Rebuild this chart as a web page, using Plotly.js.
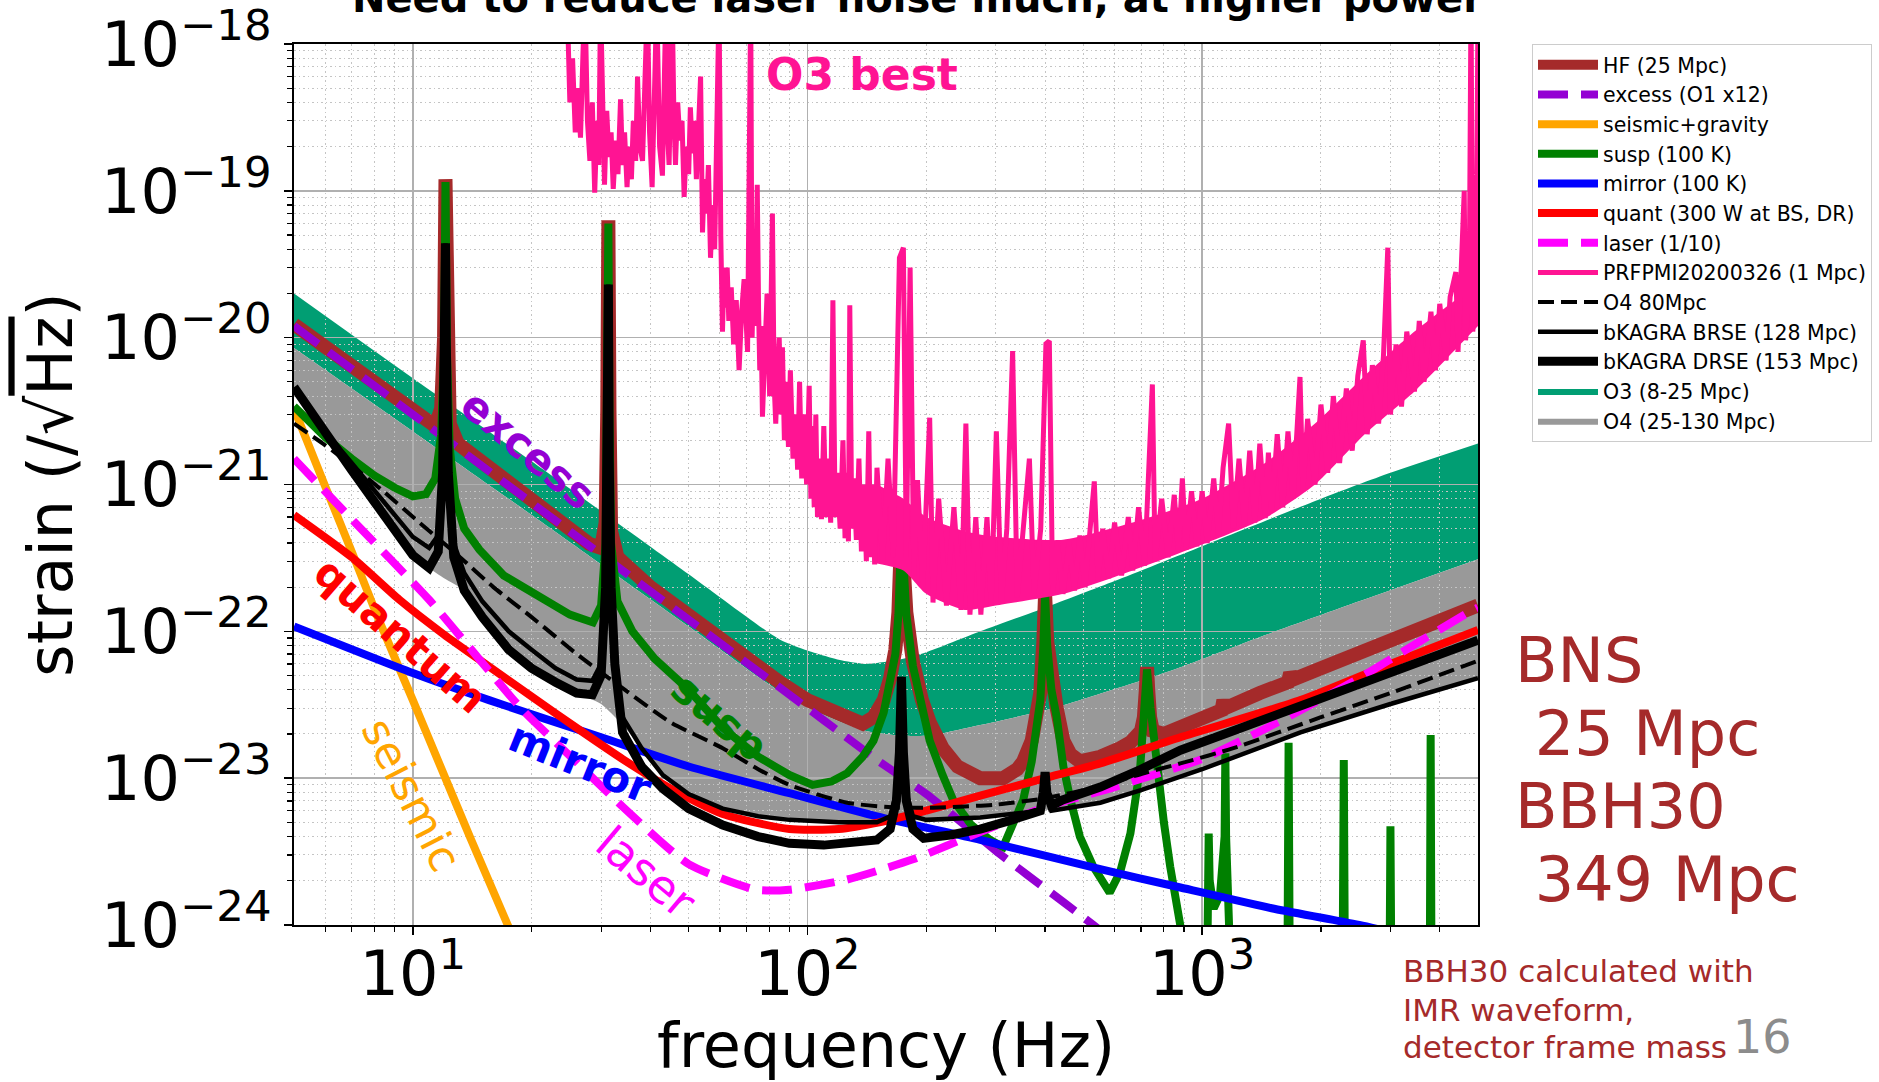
<!DOCTYPE html>
<html><head><meta charset="utf-8">
<script src="https://cdn.plot.ly/plotly-3.0.1.min.js"></script>
<style>html,body{margin:0;padding:0;background:#fff;} #chart{width:1879px;height:1082px;}</style>
</head><body><div id="chart"></div>
<script>
// ---------------- DATA (frequency in Hz, strain in 1/sqrt(Hz)) ----------------
const hfFreq = [5,7,10,11.4,11.8,12.0,12.1,12.2,12.4,13,15,20,28,30,30.8,31.1,31.3,31.5,31.8,33,40,50,70,85,100,120,138,147,156,162,167,170,172,173.5,175,178,185,195,204,220,240,274,313,340,352,370,389,396,400,405,415,428,445,464,490,552,620,658,700,712,720,725,730,738,750,800,881,1000,1120,1132,1145,1400,1650,1671,1700,2000,2500,3177,4000,5000];
const hfStrain = [1.23e-20,6.3e-21,3.1e-21,2.5e-21,3.3e-21,1e-20,1.2e-19,1e-20,2.6e-21,1.9e-21,1.4e-21,7.7e-22,3.95e-22,3.7e-22,5.5e-22,3.2e-21,6.3e-20,3.2e-21,4.8e-22,3.2e-22,2.0e-22,1.27e-22,6.4e-23,4.5e-23,3.4e-23,2.7e-23,2.35e-23,2.6e-23,3.4e-23,4.8e-23,7.5e-23,1.35e-22,3e-22,6.6e-22,3e-22,1.35e-22,6.2e-23,3.4e-23,2.4e-23,1.6e-23,1.2e-23,1.0e-23,1.0e-23,1.15e-23,1.3e-23,1.8e-23,3.8e-23,8.5e-23,1.8e-22,8.5e-23,4.4e-23,3e-23,1.8e-23,1.45e-23,1.3e-23,1.4e-23,1.6e-23,1.75e-23,2.1e-23,2.6e-23,4e-23,5.7e-23,4e-23,2.6e-23,2.1e-23,2.0e-23,2.2e-23,2.6e-23,2.9e-23,3.4e-23,3.0e-23,3.8e-23,4.5e-23,5.2e-23,4.7e-23,5.6e-23,7.2e-23,9.5e-23,1.2e-22,1.5e-22];

const excessFreq = [5,10,20,50,100,124,150,200,250,300,360,450,530,700];
const excessStrain = [1.2e-20,3.0e-21,7.5e-22,1.2e-22,3.0e-23,1.95e-23,1.33e-23,7.8e-24,4.8e-24,3.2e-24,2.2e-24,1.4e-24,1.0e-24,5.6e-25];

const seismicFreq = [5,6,7,8.2,10,12,14,17.4,20];
const seismicStrain = [3.3e-21,9.7e-22,3.5e-22,1.2e-22,3.4e-23,1.05e-23,3.9e-24,1.0e-24,4.1e-25];

const suspFreq = [5,6,7,8,9,10,10.8,11.4,11.8,12.0,12.1,12.2,12.4,12.8,13.5,14.75,17,21.7,25,28.6,30,30.8,31.1,31.3,31.5,31.8,33,36,41,50,61,75,90,103,115,126,138,147,156,162,167,170,172,173.5,175,178,185,195,204,220,234,260,290,313,340,352,370,389,396,400,405,415,428,445,464,490,530,583,620,658,697,715,725,740,767,800,830,879,920,1030,1036,1039,1045,1070,1110,1140,1145,1150,1180,1645,1656,1667,2270,2285,2300,2985,3000,3015,3775,3793,3811,5000];
const suspStrain = [3.4e-21,2.1e-21,1.5e-21,1.15e-21,9.5e-22,8.3e-22,8.6e-22,1.1e-21,2.2e-21,8e-21,1.15e-19,8e-21,1.8e-21,8e-22,5e-22,3.6e-22,2.4e-22,1.64e-22,1.3e-22,1.15e-22,1.5e-22,4e-22,3e-21,6.0e-20,3e-21,4e-22,1.6e-22,1.0e-22,6.5e-23,4.0e-23,2.2e-23,1.4e-23,1.05e-23,9e-24,9.5e-24,1.08e-23,1.4e-23,1.8e-23,2.8e-23,4.4e-23,7e-23,1.3e-22,3e-22,6.5e-22,3e-22,1.3e-22,5.8e-23,3e-23,1.8e-23,1.05e-23,7.1e-24,4.8e-24,3.8e-24,3.4e-24,5.5e-24,7.1e-24,1.3e-23,3.4e-23,8e-23,1.76e-22,8e-23,4e-23,2.6e-23,1.2e-23,7.1e-24,4e-24,2.5e-24,1.66e-24,2.3e-24,4.2e-24,1.2e-23,3e-23,5.5e-23,3e-23,1.2e-23,5e-24,2.5e-24,1.15e-24,5e-25,5e-25,2e-24,4.2e-24,2e-24,1.3e-24,1.6e-24,4e-24,1.48e-23,4e-24,5e-25,5e-25,1.74e-23,5e-25,5e-25,1.33e-23,5e-25,5e-25,4.7e-24,5e-25,5e-25,1.97e-23,5e-25,5e-25];

const mirrorFreq = [5,10,15.6,30,50,90,150,274,552,881,1500,2500,5000];
const mirrorStrain = [1.08e-22,5.2e-23,3.4e-23,1.9e-23,1.2e-23,7.9e-24,5.5e-24,3.8e-24,2.4e-24,1.8e-24,1.3e-24,1.0e-24,6.5e-25];

const quantFreq = [5,7,9.25,12,15,20,26,34,45,61,90,120,152,200,274,400,552,881,1775,3000,5000];
const quantStrain = [6.2e-22,3.2e-22,1.64e-22,9.5e-23,6.2e-23,3.6e-23,2.2e-23,1.35e-23,8.5e-24,5.7e-24,4.5e-24,4.5e-24,5.0e-24,6.0e-24,7.6e-24,1.0e-23,1.26e-23,1.9e-23,3.4e-23,6.0e-23,1.02e-22];

const laserFreq = [5,7,11,15,19,25,34,50,74,90,126,185,274,404,583,725,1000,1459,2500,3500,4700,5000];
const laserStrain = [1.5e-21,5.8e-22,1.64e-22,6.1e-23,2.9e-23,1.42e-23,6.4e-24,2.6e-24,1.74e-24,1.74e-24,2.04e-24,2.8e-24,4.3e-24,6.4e-24,8.5e-24,1.02e-23,1.35e-23,2.2e-23,4.8e-23,8.3e-23,1.33e-22,1.45e-22];

// PRFPMI (O3 best) measured curve: noisy trace read point by point
const prfpmiFreq = [24.6,25.0,25.4,25.8,26.2,26.6,27.0,27.3,27.7,28.1,28.5,28.9,29.3,29.6,29.9,30.3,30.6,31.0,31.4,31.8,32.2,32.7,33.1,33.6,34.0,34.4,34.9,35.3,35.8,36.2,36.7,37.1,37.6,38.2,38.7,39.3,39.8,40.4,40.9,41.5,42.2,42.9,43.4,43.8,44.2,44.6,45.0,45.4,45.9,46.3,46.9,47.5,48.1,48.7,49.3,50.0,50.5,51.1,51.7,52.3,52.9,53.6,54.2,54.8,55.5,56.1,56.8,57.5,58.2,58.9,59.7,60.3,60.9,61.5,62.0,62.6,63.2,64.1,65.0,66.0,67.1,68.1,69.1,70.5,71.8,72.4,73.0,73.8,74.6,75.2,75.7,76.3,76.9,78.0,79.0,80.2,81.5,82.3,83.1,84.0,84.8,85.6,86.4,87.4,88.5,89.5,90.5,91.9,93.4,94.4,95.5,96.7,98.0,99.5,101,102,103,104,105,106,107,108.5,110,111.5,113,114.5,116,117.5,119,121,123,124.5,126,127,128,129.5,131,133,135,137,139,141,143,144.5,146,148,150,155,160,165,171,175,178,182,186,190,196,204,208,215,225,235,245,252,258,267,275,285,292,301,310,320,331,340,352,365,375,390,402,410,418,430,444,460,475,490,505,520,533,545,560,580,600,625,650,667,690,715,748,760,790,820,850,870,891,910,940,970,1000,1030,1070,1100,1130,1167,1200,1240,1280,1320,1360,1400,1444,1472,1500,1550,1600,1650,1700,1770,1800,1850,1932,2000,2080,2150,2230,2320,2400,2480,2560,2620,2700,2800,2880,2954,3000,3100,3200,3300,3451,3550,3650,3800,3900,4000,4150,4250,4394,4450,4614,4650,4750,4800,4850,4950,5000];
const prfpmiStrain = [2e-18,4e-19,8e-19,2.5e-19,5e-19,2.3e-19,9e-19,2e-18,3e-19,1.6e-19,4e-19,9.7e-20,3e-19,1.5e-19,2e-18,2e-19,1.1e-19,3.5e-19,1.7e-19,2.5e-19,1.03e-19,2.2e-19,1.3e-19,4.2e-19,1.5e-19,2.5e-19,1.06e-19,2e-19,1.2e-19,3e-19,1.6e-19,6e-19,2e-19,1.6e-19,5e-19,2e-18,2.5e-19,1.06e-19,4e-19,2e-18,2e-19,1.27e-19,6e-19,2e-18,2.5e-19,1.5e-19,5e-19,2e-18,3e-19,1.5e-19,4e-19,2.2e-19,3e-19,9.1e-20,2e-19,1.3e-19,3.7e-19,1.8e-19,3e-19,1.2e-19,2.5e-19,6e-19,5.2e-20,1.2e-19,7e-20,1.5e-19,3.5e-20,8e-20,4e-20,1.5e-19,2e-18,5e-20,1.1e-20,3e-20,1.6e-20,3e-20,1.3e-20,2.2e-20,9e-21,1.8e-20,6e-21,1.5e-20,2.5e-20,8e-21,2e-18,1e-20,3e-20,1.2e-20,1.1e-19,1.5e-20,6e-21,1.2e-20,2.9e-21,8e-21,2e-20,4e-21,7e-20,5e-21,2.6e-21,6e-21,1e-20,3e-21,8.6e-21,2e-21,5e-21,1.8e-21,6e-21,1.5e-21,3e-21,1.26e-21,5e-21,1.1e-21,3e-21,1.0e-21,4.7e-21,8e-22,2.5e-21,7e-22,3e-21,6e-22,1.5e-21,5.8e-22,2.5e-21,6e-22,1.5e-21,5.5e-22,1.8e-20,6e-22,1.2e-21,5e-22,2e-21,4.3e-22,1.2e-21,4.1e-22,1.66e-20,5e-22,1.1e-21,4.2e-22,1.5e-21,3.5e-22,1e-21,3e-22,2.3e-21,3.2e-22,1e-21,2.85e-22,1.3e-21,3e-22,1.5e-21,3.2e-22,3.5e-20,4.1e-20,3.2e-22,3.0e-20,2.4e-22,1.07e-21,2e-22,2.85e-21,1.57e-22,8e-22,1.5e-22,7e-22,1.4e-22,2.6e-21,1.3e-22,6e-22,1.3e-22,6e-22,1.5e-22,2.3e-21,1.6e-22,5e-22,8.1e-21,1.7e-22,5e-22,1.5e-21,1.8e-22,5e-22,9.1e-21,9.5e-21,1.8e-22,4e-22,1.8e-22,4e-22,1.9e-22,4.5e-22,2.0e-22,4.5e-22,1.05e-21,2.2e-22,5e-22,2.3e-22,5.5e-22,2.4e-22,6e-22,2.6e-22,7e-22,2.8e-22,4.8e-21,3e-22,8e-22,3.2e-22,8.5e-22,3.5e-22,1.1e-21,3.6e-22,9e-22,3.8e-22,9e-22,4.0e-22,1.1e-21,4.5e-22,1.3e-21,2.6e-21,5e-22,1.5e-21,5.2e-22,1.7e-21,5.5e-22,1.9e-21,5.9e-22,1.65e-21,6.5e-22,2.2e-21,7e-22,2.3e-21,8e-22,5.4e-21,9e-22,2.8e-21,1.0e-21,3.5e-21,1.2e-21,4e-21,1.4e-21,4.5e-21,1.7e-21,5.5e-21,9.6e-21,2.2e-21,6.5e-21,2.6e-21,7.5e-21,4.1e-20,3.0e-21,9e-21,3.4e-21,1.1e-20,4.3e-21,1.3e-20,5e-21,1.5e-20,6e-21,1.7e-20,7e-21,1.9e-20,2.8e-20,8e-21,1e-19,9.6e-21,2.1e-20,2e-18,1.1e-20,2.5e-20,2e-18];
// lower and upper edge of the dense noise band of the same curve (150 Hz - 5 kHz)
const prfpmiBandFreq = [150,175,200,250,300,444,667,1000,1444,1932,2582,3451,4614,5000];
const prfpmiBandLow = [2.9e-22,2.6e-22,1.8e-22,1.4e-22,1.5e-22,1.8e-22,2.6e-22,3.9e-22,5.9e-22,1.0e-21,2.2e-21,4.3e-21,9.6e-21,1.2e-20];
const prfpmiBandHigh = [1.0e-21,8e-22,6e-22,4.8e-22,4.4e-22,4.2e-22,5.5e-22,8e-22,1.4e-21,2.6e-21,5.5e-21,1.1e-20,2.0e-20,2.3e-20];

const o4DashFreq = [5,6,7,8.5,10.4,13,16,20,26.4,34,45,61,75,90,126,170,208,300,400,550,711,881,1200,2000,3000,5000];
const o4DashStrain = [2.6e-21,1.85e-21,1.35e-21,8.8e-22,5.5e-22,3.3e-22,2.0e-22,1.25e-22,6.8e-23,4.1e-23,2.4e-23,1.6e-23,1.15e-23,9e-24,6.8e-24,6.3e-24,6.3e-24,6.6e-24,7.3e-24,8.8e-24,1.08e-23,1.26e-23,1.6e-23,2.6e-23,3.8e-23,6.3e-23];

const brseFreq = [5,6,7,8,9,10,11,11.6,11.9,12.05,12.1,12.15,12.3,12.7,13.5,15,17.5,20,23,26,28.5,30,30.8,31.15,31.3,31.45,31.8,32.5,34,38,43,50,61,75,90,120,150,162,168,171,173,175,178,185,200,274,330,389,396,400,404,415,552,700,1000,1775,3000,5000];
const brseStrain = [4.4e-21,2.3e-21,1.4e-21,9e-22,6.2e-22,4.4e-22,3.7e-22,4.5e-22,1.2e-21,1e-20,4.4e-20,1e-20,1.2e-21,4e-22,2.5e-22,1.6e-22,1.0e-22,7.5e-23,5.6e-23,4.7e-23,4.6e-23,6e-23,2.2e-22,1.5e-21,2.3e-20,1.5e-21,2.2e-22,6e-23,2.6e-23,1.6e-23,1.05e-23,7.8e-24,6.2e-24,5.5e-24,5.2e-24,5.0e-24,5.0e-24,5.5e-24,8e-24,1.6e-23,4.9e-23,1.6e-23,8e-24,5.5e-24,5.2e-24,5.4e-24,5.7e-24,6.0e-24,8e-24,1.1e-23,8e-24,6.0e-24,6.8e-24,8.3e-24,1.15e-23,2.05e-23,3.2e-23,4.8e-23];

const drseFreq = [5,6,7,8,9,10,11,11.6,11.9,12.05,12.1,12.15,12.3,12.7,13.5,15,17.5,20,23,26,28.5,30,30.8,31.15,31.3,31.45,31.8,32.5,34,38,43,50,61,75,90,110,130,150,162,168,171,173,175,178,185,197,230,274,330,389,396,400,404,415,443,552,700,881,1200,1775,3000,5000];
const drseStrain = [4.6e-21,2.2e-21,1.25e-21,7.6e-22,4.8e-22,3.3e-22,2.7e-22,3.5e-22,1.2e-21,1e-20,4.4e-20,1e-20,1.2e-21,3.2e-22,1.9e-22,1.25e-22,7.5e-23,5.6e-23,4.5e-23,3.8e-23,3.7e-23,5e-23,2e-22,1.5e-21,2.3e-20,1.5e-21,2e-22,6e-23,2.05e-23,1.2e-23,8.5e-24,6.2e-24,4.8e-24,4.0e-24,3.6e-24,3.5e-24,3.6e-24,3.8e-24,4.5e-24,7e-24,1.5e-23,4.9e-23,1.5e-23,7e-24,4.5e-24,3.9e-24,4.1e-24,4.5e-24,5.2e-24,6.0e-24,8e-24,1.1e-23,8e-24,6.5e-24,7.1e-24,8.7e-24,1.15e-23,1.55e-23,2.1e-23,3.1e-23,5.3e-23,8.7e-23];

// O3 band: 8 Mpc (upper) to 25 Mpc; O4 band: 25 Mpc to 130 Mpc (lower)
const o3UpperFreq = [5,10,20,50,85,100,120,140,170,200,274,400,600,1000,2000,3000,5000];
const o3UpperStrain = [2.0e-20,5.3e-21,1.44e-21,2.45e-22,8.8e-23,7.4e-23,6.4e-23,6.0e-23,6.4e-23,7.2e-23,1.0e-22,1.45e-22,2.2e-22,3.8e-22,8.0e-22,1.2e-21,1.9e-21];
const band25Freq = [5,10,20,50,85,110,140,170,204,274,400,490,700,900,1459,2500,5000];
const band25Strain = [8.5e-21,2.3e-21,6.2e-22,1.08e-22,3.9e-23,2.7e-23,2.1e-23,1.95e-23,1.95e-23,2.3e-23,2.9e-23,3.4e-23,4.6e-23,5.8e-23,9.5e-23,1.6e-22,3.1e-22];
const o4LowerFreq = [5,6,7,8,9,10,11,12,13.5,15,17.5,20,23,26,30,34,38,43,50,61,75,90,120,150,200,274,389,552,700,1000,1775,3000,5000];
const o4LowerStrain = [4.4e-21,2.2e-21,1.25e-21,7.6e-22,4.8e-22,3.3e-22,2.7e-22,2.3e-22,1.9e-22,1.25e-22,7.5e-23,5.6e-23,4.5e-23,3.8e-23,3.2e-23,2.3e-23,1.6e-23,1.05e-23,7.8e-24,6.2e-24,5.5e-24,5.2e-24,5.0e-24,5.0e-24,5.2e-24,5.4e-24,6.0e-24,6.8e-24,8.3e-24,1.15e-23,2.05e-23,3.2e-23,4.8e-23];

// tick labels
const xTickVals = [10, 100, 1000];
const xTickText = ['10<sup>1</sup>', '10<sup>2</sup>', '10<sup>3</sup>'];
const yTickVals = [1e-24, 1e-23, 1e-22, 1e-21, 1e-20, 1e-19, 1e-18];
const yTickText = ['10<sup>\u221224</sup>', '10<sup>\u221223</sup>', '10<sup>\u221222</sup>', '10<sup>\u221221</sup>', '10<sup>\u221220</sup>', '10<sup>\u221219</sup>', '10<sup>\u221218</sup>'];

// ---------------- FIGURE ----------------
const FONT = 'DejaVu Sans';
const xMinor = [];
[1, 10, 100, 1000].forEach(d => { for (let k = 2; k <= 9; k++) { const v = k * d; if (v > 5 && v < 5000) xMinor.push(v); } });
const yMinor = [];
for (let e = -24; e < -18; e++) { for (let k = 2; k <= 9; k++) yMinor.push(k * Math.pow(10, e)); }

function line(name, x, y, color, width, opts) {
  opts = opts || {};
  return Object.assign({
    type: 'scatter', mode: 'lines', name: name, x: x, y: y,
    xaxis: 'x2', yaxis: 'y2',
    line: { color: color, width: width, dash: opts.dash || 'solid', shape: opts.shape || 'linear', smoothing: opts.smoothing || 0 },
    legendrank: opts.rank, hoverinfo: 'skip'
  }, opts.extra || {});
}

const traces = [
  // fills on the lower subplot (grid of upper subplot drawn over them)
  { type: 'scatter', mode: 'lines', x: band25Freq, y: band25Strain, xaxis: 'x', yaxis: 'y', line: { width: 0, shape: 'spline', smoothing: 0.6 }, showlegend: false, hoverinfo: 'skip' },
  { type: 'scatter', mode: 'lines', name: 'O3 (8-25 Mpc)', x: o3UpperFreq, y: o3UpperStrain, xaxis: 'x', yaxis: 'y', fill: 'tonexty', fillcolor: '#019e73', line: { width: 0, color: '#019e73', shape: 'spline', smoothing: 0.6 }, legendrank: 12, hoverinfo: 'skip' },
  { type: 'scatter', mode: 'lines', x: o4LowerFreq, y: o4LowerStrain, xaxis: 'x', yaxis: 'y', line: { width: 0, shape: 'spline', smoothing: 0.6 }, showlegend: false, hoverinfo: 'skip' },
  { type: 'scatter', mode: 'lines', name: 'O4 (25-130 Mpc)', x: band25Freq, y: band25Strain, xaxis: 'x', yaxis: 'y', fill: 'tonexty', fillcolor: '#999999', line: { width: 0, color: '#999999', shape: 'spline', smoothing: 0.6 }, legendrank: 13, hoverinfo: 'skip' },
  // lines
  line('HF (25 Mpc)', hfFreq, hfStrain, '#a52a2a', 14, { rank: 1 }),
  line('excess (O1 x12)', excessFreq, excessStrain, '#9400d3', 8, { rank: 2, dash: '30px,13px', shape: 'spline', smoothing: 0.6 }),
  line('seismic+gravity', seismicFreq, seismicStrain, '#ffa500', 8, { rank: 3, shape: 'spline', smoothing: 0.6 }),
  line('susp (100 K)', suspFreq, suspStrain, '#008000', 8, { rank: 4 }),
  line('mirror (100 K)', mirrorFreq, mirrorStrain, '#0000ff', 8, { rank: 5, shape: 'spline', smoothing: 0.6 }),
  line('quant (300 W at BS, DR)', quantFreq, quantStrain, '#ff0000', 8, { rank: 6, shape: 'spline', smoothing: 0.6 }),
  line('laser (1/10)', laserFreq, laserStrain, '#ff00ff', 8, { rank: 7, dash: '30px,13px', shape: 'spline', smoothing: 0.6 }),
  { type: 'scatter', mode: 'lines', x: prfpmiBandFreq, y: prfpmiBandLow, xaxis: 'x2', yaxis: 'y2', line: { width: 0, shape: 'spline', smoothing: 0.6 }, showlegend: false, hoverinfo: 'skip' },
  { type: 'scatter', mode: 'lines', x: prfpmiBandFreq, y: prfpmiBandHigh, xaxis: 'x2', yaxis: 'y2', fill: 'tonexty', fillcolor: '#ff1493', line: { width: 0, shape: 'spline', smoothing: 0.6 }, showlegend: false, hoverinfo: 'skip' },
  line('PRFPMI20200326 (1 Mpc)', prfpmiFreq, prfpmiStrain, '#ff1493', 5, { rank: 8 }),
  line('O4 80Mpc', o4DashFreq, o4DashStrain, '#000000', 4, { rank: 9, dash: '16px,7px', shape: 'spline', smoothing: 0.6 }),
  line('bKAGRA BRSE (128 Mpc)', brseFreq, brseStrain, '#000000', 4.5, { rank: 10 }),
  line('bKAGRA DRSE (153 Mpc)', drseFreq, drseStrain, '#000000', 9, { rank: 11 })
];

const L = 294, R = 1478, T = 44, B = 925;
const px = v => (v - L) / (R - L);
const py = v => (B - v) / (B - T);

function ann(text, x, y, size, color, opts) {
  opts = opts || {};
  return Object.assign({
    xref: 'paper', yref: 'paper', x: px(x), y: py(y), text: text, showarrow: false,
    font: { family: FONT, size: size, color: color }, xanchor: 'center', yanchor: 'middle'
  }, opts);
}

const annotations = [
  ann('<b>Need to reduce laser noise much, at higher power</b>', 918, -2, 40, '#000000'),
  ann('<b>O3 best</b>', 862, 75, 44, '#ff1493'),
  ann('<b>excess</b>', 528, 449, 42, '#9400d3', { textangle: 40 }),
  ann('<b>quantum</b>', 401, 635, 42, '#ff0000', { textangle: 41 }),
  ann('seismic', 412, 794, 44, '#ffa500', { textangle: 63 }),
  ann('<b>mirror</b>', 580, 762, 42, '#0000ff', { textangle: 22 }),
  ann('<b>susp</b>', 720, 717, 42, '#008000', { textangle: 40 }),
  ann('laser', 646, 872, 46, '#ff00ff', { textangle: 40 }),
  ann('BNS', 1513, 660.5, 62, '#a52a2a', { xanchor: 'left' }),
  ann('\u00a025 Mpc', 1513, 733.5, 62, '#a52a2a', { xanchor: 'left' }),
  ann('BBH30', 1513, 806.5, 62, '#a52a2a', { xanchor: 'left' }),
  ann('\u00a0349 Mpc', 1513, 879.5, 62, '#a52a2a', { xanchor: 'left' }),
  ann('BBH30 calculated with', 1401, 971.3, 31, '#a52a2a', { xanchor: 'left' }),
  ann('IMR waveform,', 1401, 1010.3, 31, '#a52a2a', { xanchor: 'left' }),
  ann('detector frame mass', 1401, 1047.3, 31, '#a52a2a', { xanchor: 'left' }),
  ann('16', 1731, 1037, 46, '#8c8c8c', { xanchor: 'left' })
];

const xRange = [Math.log10(5), Math.log10(5000)];
const yRange = [-24.00001, -17.99999];
const gridMinor = (vals) => ({
  tickmode: 'array', tickvals: vals, ticks: 'outside', ticklen: 5, tickwidth: 1.2, tickcolor: '#000',
  showgrid: true, gridcolor: '#c4c4c4', gridwidth: 1, griddash: '1.5px,3px'
});

const layout = {
  width: 1879, height: 1082,
  margin: { l: L, r: 1879 - R, t: T, b: 1082 - B, autoexpand: false },
  paper_bgcolor: '#ffffff', plot_bgcolor: 'rgba(0,0,0,0)',
  font: { family: FONT, color: '#000000' },
  showlegend: true,
  legend: {
    x: px(1532), y: 1, xanchor: 'left', yanchor: 'top', traceorder: 'normal',
    bgcolor: 'rgba(255,255,255,0.9)', bordercolor: '#cccccc', borderwidth: 1,
    font: { family: FONT, size: 20.5, color: '#000' }, itemwidth: 60, tracegroupgap: 0
  },
  xaxis: { type: 'log', range: xRange, domain: [0, 1], visible: false, fixedrange: true },
  yaxis: { type: 'log', range: yRange, domain: [0, 1], visible: false, fixedrange: true },
  xaxis2: {
    type: 'log', range: xRange, domain: [0, 1], anchor: 'y2', automargin: false,
    tickmode: 'array', tickvals: xTickVals, ticktext: xTickText,
    tickfont: { family: FONT, size: 62, color: '#000' }, ticklabelstandoff: -14, ticklabeloverflow: 'allow',
    ticks: 'outside', ticklen: 8, tickwidth: 1.5, tickcolor: '#000',
    showline: true, linecolor: '#000', linewidth: 2, mirror: true,
    showgrid: true, gridcolor: '#b0b0b0', gridwidth: 1.5,
    minor: gridMinor(xMinor),
    title: { text: 'frequency (Hz)', font: { family: FONT, size: 62, color: '#000' }, standoff: 22 }
  },
  yaxis2: {
    type: 'log', range: yRange, domain: [0, 1], anchor: 'x2', automargin: false,
    tickmode: 'array', tickvals: yTickVals, ticktext: yTickText,
    tickfont: { family: FONT, size: 62, color: '#000' }, ticklabeloverflow: 'allow',
    ticks: 'outside', ticklen: 8, tickwidth: 1.5, tickcolor: '#000',
    showline: true, linecolor: '#000', linewidth: 2, mirror: true,
    showgrid: true, gridcolor: '#b0b0b0', gridwidth: 1.5,
    minor: gridMinor(yMinor),
    title: { text: 'strain (/\u221a<span style="text-decoration:overline">Hz</span>)', font: { family: FONT, size: 62, color: '#000' }, standoff: 8 }
  },
  annotations: annotations,
  hovermode: false
};

Plotly.newPlot('chart', traces, layout, { staticPlot: true, displayModeBar: false });
</script></body></html>
